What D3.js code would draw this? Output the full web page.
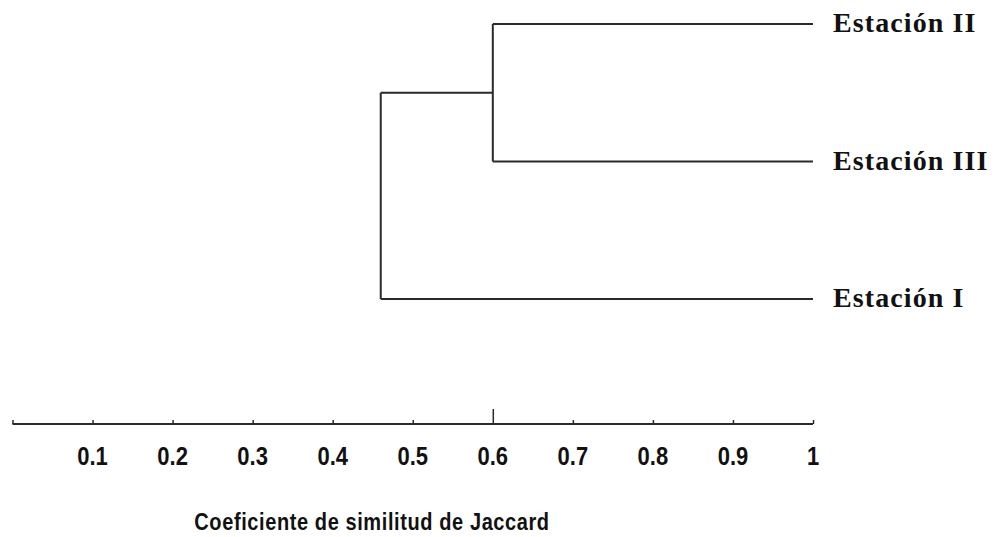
<!DOCTYPE html>
<html>
<head>
<meta charset="utf-8">
<script src="https://cdn.jsdelivr.net/npm/d3@7"></script>
<style>
html,body{margin:0;padding:0;background:#fff;}
svg{display:block;}
</style>
</head>
<body>
<svg id="chart" width="994" height="537"></svg>
<script>
// Data
const leaves = ["Estación II", "Estación III", "Estación I"];
const merges = [
  { children: ["Estación II", "Estación III"], height: 0.60, id: "n1" },
  { children: ["n1", "Estación I"], height: 0.46, id: "root" }
];
const tickValues = [0, 0.1, 0.2, 0.3, 0.4, 0.5, 0.6, 0.7, 0.8, 0.9, 1];
const tickLabels = ["", "0.1", "0.2", "0.3", "0.4", "0.5", "0.6", "0.7", "0.8", "0.9", "1"];
const axisTitle = "Coeficiente de similitud de Jaccard";

const svg = d3.select("#chart");
const x = d3.scaleLinear().domain([0, 1]).range([12.5, 813]);
const y = d3.scalePoint().domain(leaves).range([24, 299]);
const axisY = 424;

const pos = {};
leaves.forEach(l => pos[l] = { x: x(1), y: y(l) });
merges.forEach(m => {
  const ys = m.children.map(c => pos[c].y);
  pos[m.id] = { x: x(m.height), y: d3.mean(ys) };
});

const g = svg.append("g");
const lineStyle = sel => sel.attr("fill", "none").attr("stroke", "#2a2a2a").attr("stroke-width", 2);

merges.forEach(m => {
  const px = pos[m.id].x;
  const ys = m.children.map(c => pos[c].y);
  g.append("line").call(lineStyle)
    .attr("x1", px).attr("x2", px).attr("y1", d3.min(ys)).attr("y2", d3.max(ys));
  m.children.forEach(c => {
    g.append("line").call(lineStyle)
      .attr("x1", px).attr("x2", pos[c].x).attr("y1", pos[c].y).attr("y2", pos[c].y);
  });
});

// leaf labels
g.selectAll("text.leaf").data(leaves).enter().append("text")
  .attr("class", "leaf")
  .attr("x", x(1) + 20)
  .attr("y", d => y(d) + 8)
  .attr("font-family", "'Liberation Serif', 'Times New Roman', serif")
  .attr("font-weight", "bold")
  .attr("font-size", 28)
  .attr("letter-spacing", 1.1)
  .attr("fill", "#111")
  .text(d => d);

// axis
const axis = d3.axisTop(x).tickValues(tickValues).tickSizeInner(4).tickSizeOuter(0).tickFormat("");
const ag = svg.append("g").attr("transform", `translate(0,${axisY})`).call(axis);
ag.select(".domain").attr("stroke", "#2a2a2a").attr("stroke-width", 2).attr("d", `M${x(0)},0H${x(1)}`);
ag.selectAll(".tick line").attr("stroke", "#2a2a2a").attr("stroke-width", 1.5)
  .attr("y2", d => Math.abs(d - 0.6) < 1e-9 ? -15 : -4);

svg.append("g").selectAll("text").data(tickValues).enter().append("text")
  .attr("transform", d => `translate(${x(d)},${axisY + 41}) scale(1,1.2)`)
  .attr("text-anchor", "middle")
  .attr("font-family", "'Liberation Sans', Arial, sans-serif")
  .attr("font-weight", "bold")
  .attr("font-size", 22)
  .attr("fill", "#111")
  .text((d, i) => tickLabels[i]);

svg.append("text")
  .attr("transform", "translate(372,530) scale(1,1.2)")
  .attr("text-anchor", "middle")
  .attr("font-family", "'Liberation Sans', Arial, sans-serif")
  .attr("font-weight", "bold")
  .attr("font-size", 20)
  .attr("letter-spacing", 0.6)
  .attr("fill", "#111")
  .text(axisTitle);
</script>
</body>
</html>
